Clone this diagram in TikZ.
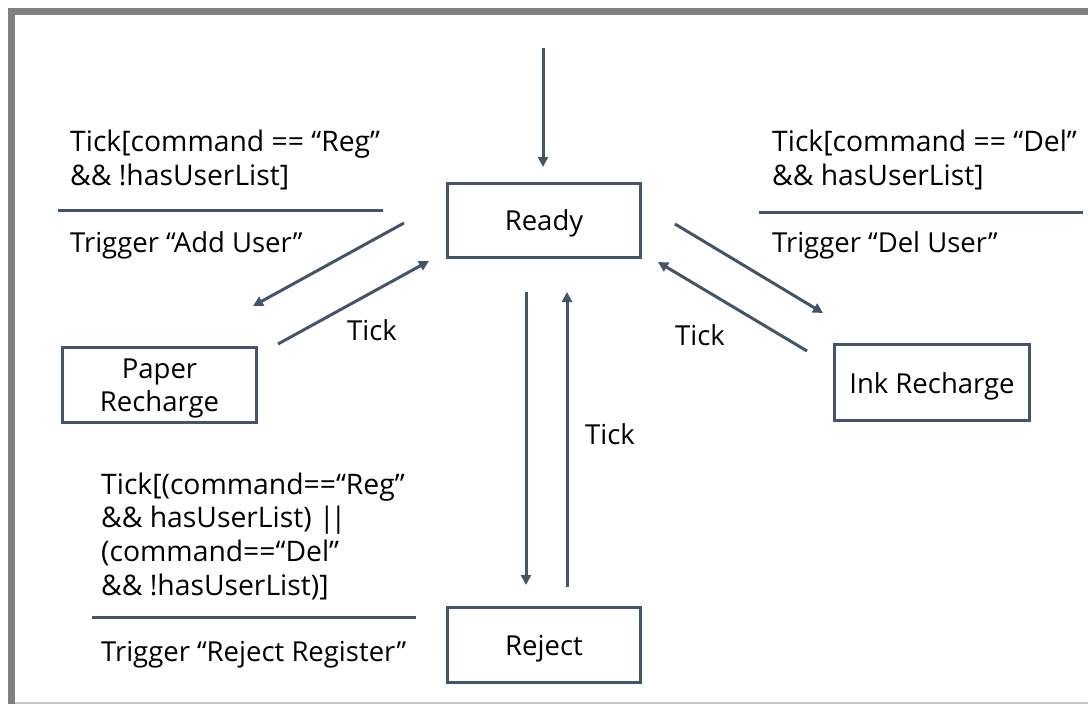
\documentclass[tikz,border=0pt]{standalone}
\usepackage{fontspec}
\setmainfont{Open Sans}
\usetikzlibrary{arrows.meta,calc}
\definecolor{edge}{HTML}{44546A}
\definecolor{frame}{HTML}{808080}
\definecolor{thinframe}{HTML}{C8C8C8}
\begin{document}
\begin{tikzpicture}[x=1pt,y=-1pt,
  state/.style={draw=edge,line width=3pt,fill=white,minimum width=193pt,minimum height=74pt,inner sep=0pt,align=center,font=\fontsize{27.5}{33}\selectfont},
  conn/.style={draw=edge,line width=3pt,-{Triangle[length=10pt,width=10pt]}},
  rule/.style={draw=edge,line width=3pt},
  lbl/.style={inner sep=0pt,align=left,font=\fontsize{27.5}{33.6}\selectfont,anchor=base west},
  guard/.style={lbl,font=\fontsize{28.3}{33.6}\selectfont},
  ticklbl/.style={inner sep=0pt,font=\fontsize{27.5}{32}\selectfont}]
\useasboundingbox (0,0) rectangle (1088,704);
\fill[white] (0,0) rectangle (1088,704);
% frame
\draw[frame,line width=7.5pt] (11.5,704) -- (11.5,11.5) -- (1088,11.5);
\draw[thinframe,line width=1.5pt] (15,703) -- (1088,703);
% states
\node[state,text height=22pt,text depth=3pt] (ready) at (544,220.5) {Ready};
\node[state,minimum width=194pt,minimum height=75pt,text height=56pt,text depth=4pt] (paper) at (159.5,385) {Paper\\Recharge};
\node[state,minimum width=195pt,minimum height=76pt,text height=24pt,text depth=3pt] (ink) at (932,382.5) {Ink Recharge};
\node[state,minimum height=75pt,text height=23pt,text depth=3pt] (reject) at (544,645) {Reject};
% endpoints
\coordinate (init) at (543,48);
\coordinate (initend) at (543,167);
\coordinate (a2s) at (404,223); \coordinate (a2e) at (253,306);
\coordinate (a3s) at (278,344); \coordinate (a3e) at (429,261);
\coordinate (a4s) at (675,224); \coordinate (a4e) at (823,313);
\coordinate (a5s) at (807,351); \coordinate (a5e) at (658,262);
\coordinate (a6s) at (526,292); \coordinate (a6e) at (526,585);
\coordinate (a7s) at (567,587); \coordinate (a7e) at (567,292);
% connectors
\draw[conn] (init) -- (initend);
\draw[conn] (a2s) -- (a2e);
\draw[conn] (a3s) -- (a3e);
\draw[conn] (a4s) -- (a4e);
\draw[conn] (a5s) -- (a5e);
\draw[conn] (a6s) -- (a6e);
\draw[conn] (a7s) -- (a7e);
% tick labels
\node[ticklbl] (t1) at (372,330) {Tick};
\node[ticklbl] (t2) at (700,335) {Tick};
\node[ticklbl] (t3) at (610,434) {Tick};
% guard / action texts
\node[guard] (g1) at (70,185) {Tick[command == “Reg”\\\&\& !hasUserList]};
\draw[rule] (58,210) coordinate (r1a) -- (383,210) coordinate (r1b);
\node[lbl] (act1) at (70,252) {Trigger “Add User”};
\node[guard] (g2) at (772,185) {Tick[command == “Del”\\\&\& hasUserList]};
\draw[rule] (759,212) coordinate (r2a) -- (1083,212) coordinate (r2b);
\node[lbl] (act2) at (772,252) {Trigger “Del User”};
\node[guard] (g3) at (101,595) {Tick[(command==“Reg”\\\&\& hasUserList) |\kern-4pt|\\(command==“Del”\\\&\& !hasUserList)]};
\draw[rule] (92,617) coordinate (r3a) -- (416,617) coordinate (r3b);
\node[lbl] (act3) at (101,661) {Trigger “Reject Register”};
\end{tikzpicture}
\end{document}
